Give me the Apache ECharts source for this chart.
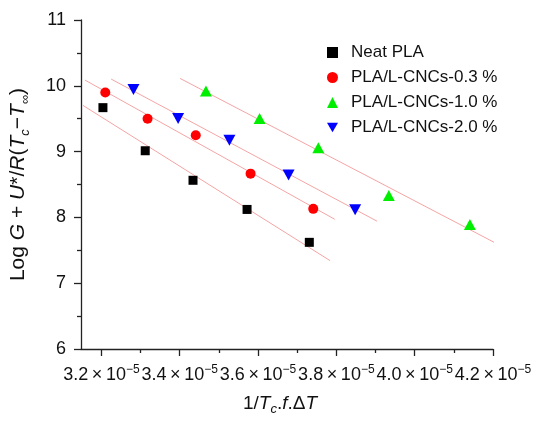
<!DOCTYPE html>
<html lang="en">
<head>
  <meta charset="UTF-8">
  <title>Log G plot</title>
  <style>
    html, body { margin: 0; padding: 0; background: #fff; }
    #chart { width: 539px; height: 421px; }
  </style>
</head>
<body>
  <div id="chart"></div>
  <script src="https://cdn.jsdelivr.net/npm/echarts@6/dist/echarts.min.js"></script>
  <script>
    // x values are in units of 1e-5
    var neatX = [3.204, 3.312, 3.434, 3.572, 3.731]
    var neatY = [9.668, 9.013, 8.564, 8.121, 7.621]
    var c03X = [3.210, 3.318, 3.441, 3.581, 3.741]
    var c03Y = [9.897, 9.498, 9.249, 8.665, 8.130]
    var c10X = [3.467, 3.604, 3.754, 3.934, 4.141]
    var c10Y = [9.922, 9.503, 9.058, 8.331, 7.891]
    var c20X = [3.282, 3.396, 3.527, 3.678, 3.848]
    var c20Y = [9.942, 9.503, 9.174, 8.645, 8.115]

    // fitted lines, end points
    var fitNeat = [[3.153, 9.702], [3.784, 7.343]]
    var fit03 = [[3.158, 10.087], [3.796, 7.971]]
    var fit20 = [[3.225, 10.102], [3.904, 7.942]]
    var fit10 = [[3.401, 10.112], [4.203, 7.621]]

    var seriesNames = ['Neat PLA', 'PLA/L-CNCs-0.3 %', 'PLA/L-CNCs-1.0 %', 'PLA/L-CNCs-2.0 %']
    var xMajor = [3.2, 3.4, 3.6, 3.8, 4.0, 4.2]
    var xMinor = [3.3, 3.5, 3.7, 3.9, 4.1]

    function pairs(xs, ys) {
      var res = []
      for (var i = 0; i < xs.length; i++) res.push([xs[i], ys[i]])
      return res
    }

    var downTri = 'path://M0,0 L10,0 L5,8.66 Z'
    var txt = '#111'
    var fitColor = '#f5a4a4'
    var font = 'Liberation Sans'

    var myChart = echarts.init(document.getElementById('chart'))

    function fitLine(name, data) {
      return {
        name: name,
        type: 'line',
        data: data,
        showSymbol: false,
        symbol: 'none',
        silent: true,
        z: 1,
        lineStyle: { color: fitColor, width: 1 }
      }
    }

    function titleRich(size) {
      return {
        n: { fontFamily: font, fontSize: size, color: txt, lineHeight: size + 6 },
        i: { fontFamily: font, fontSize: size, fontStyle: 'italic', color: txt, lineHeight: size + 6 },
        s: { fontFamily: font, fontSize: 13, fontStyle: 'italic', color: txt, verticalAlign: 'bottom', lineHeight: 13 }
      }
    }

    var option = {
      animation: false,
      grid: { left: 79, right: 46, top: 20, bottom: 67 },
      legend: {
        data: [
          { name: seriesNames[0], icon: 'rect' },
          { name: seriesNames[1], icon: 'circle' },
          { name: seriesNames[2], icon: 'triangle' },
          { name: seriesNames[3], icon: downTri }
        ],
        orient: 'vertical',
        left: 327,
        top: 44,
        padding: 0,
        itemWidth: 11,
        itemHeight: 11,
        itemGap: 8,
        textStyle: { fontFamily: font, fontSize: 17, color: txt, lineHeight: 16, padding: [0, 0, 0, 8] }
      },
      xAxis: [
        {
          type: 'value',
          min: 3.148,
          max: 4.2,
          splitLine: { show: false },
          axisLine: { onZero: false, lineStyle: { color: '#222', width: 1.3 } },
          axisTick: { customValues: xMajor, length: 7, lineStyle: { color: '#222', width: 1.3 } },
          axisLabel: {
            customValues: xMajor,
            margin: 15,
            formatter: function (v) { return '{a|' + v.toFixed(1) + '\u2009×\u200910}{b|−5}' },
            rich: {
              a: { fontFamily: font, fontSize: 18, color: txt, lineHeight: 22 },
              b: { fontFamily: font, fontSize: 12, color: txt, verticalAlign: 'top', lineHeight: 12 }
            }
          },
          name: '{n|1/}{i|T}{s|c}{n|.}{i|f}{n|.Δ}{i|T}',
          nameLocation: 'middle',
          nameGap: 42,
          nameTextStyle: { rich: titleRich(19), padding: [0, 14, 0, 0] }
        },
        {
          type: 'value',
          min: 3.148,
          max: 4.2,
          position: 'bottom',
          splitLine: { show: false },
          axisLine: { show: false, onZero: false },
          axisTick: { customValues: xMinor, length: 4, lineStyle: { color: '#222', width: 1.3 } },
          axisLabel: { show: false }
        }
      ],
      yAxis: {
        type: 'value',
        min: 6,
        max: 11,
        interval: 1,
        splitLine: { show: false },
        axisLine: { show: true, onZero: false, lineStyle: { color: '#222', width: 1.3 } },
        axisTick: { show: true, length: 7, lineStyle: { color: '#222', width: 1.3 } },
        minorTick: { show: true, splitNumber: 2, length: 4, lineStyle: { color: '#222', width: 1.3 } },
        axisLabel: { fontFamily: font, fontSize: 18, color: txt, margin: 15 },
        name: '{n|Log }{i|G}{n| + }{i|U}{n|*/}{i|R}{n|(}{i|T}{s|c}{n|−}{i|T}{s|∞}{n|)}',
        nameLocation: 'middle',
        nameRotate: 90,
        nameGap: 49,
        nameTextStyle: { rich: titleRich(21) }
      },
      series: [
        fitLine('fitNeat', fitNeat),
        fitLine('fit03', fit03),
        fitLine('fit10', fit10),
        fitLine('fit20', fit20),
        {
          name: seriesNames[0], type: 'scatter', z: 3,
          symbol: 'rect', symbolSize: 9,
          itemStyle: { color: '#000', opacity: 1 },
          data: pairs(neatX, neatY)
        },
        {
          name: seriesNames[1], type: 'scatter', z: 3,
          symbol: 'circle', symbolSize: 10,
          itemStyle: { color: '#ff0000', opacity: 1 },
          data: pairs(c03X, c03Y)
        },
        {
          name: seriesNames[2], type: 'scatter', z: 3,
          symbol: 'triangle', symbolSize: [12, 11],
          itemStyle: { color: '#00ee00', opacity: 1 },
          data: pairs(c10X, c10Y)
        },
        {
          name: seriesNames[3], type: 'scatter', z: 3,
          symbol: downTri, symbolSize: [12, 11],
          itemStyle: { color: '#0000ff', opacity: 1 },
          data: pairs(c20X, c20Y)
        }
      ]
    }
    myChart.setOption(option)
  </script>
</body>
</html>
